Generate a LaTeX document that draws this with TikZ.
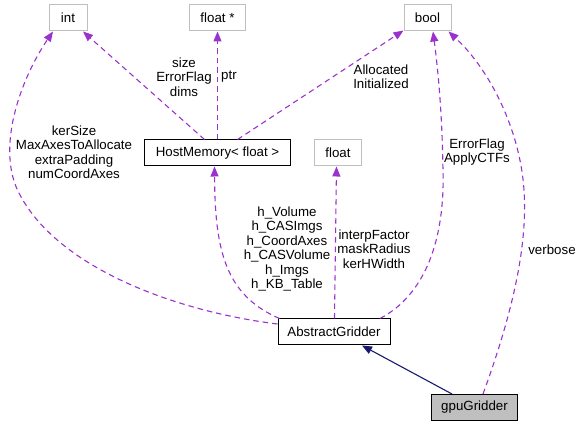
\documentclass[tikz,border=0pt]{standalone}
\usepackage{fontspec}
\setmainfont{Liberation Sans}
\usetikzlibrary{arrows.meta}
\definecolor{dpurple}{HTML}{9A32CD}
\definecolor{dnavy}{HTML}{191970}
\definecolor{lgray}{HTML}{BFBFBF}
\definecolor{fgray}{HTML}{BFBFBF}
\tikzset{
  base/.style={inner sep=0pt, minimum height=26pt, font=\fontsize{13.3}{14.5}\selectfont},
  extbox/.style={base, draw=lgray, line width=1pt, fill=white},
  clsbox/.style={base, draw=black, line width=1pt, fill=white},
  curbox/.style={base, draw=black, line width=1pt, fill=fgray},
  usage/.style={draw=dpurple, line width=1.1pt, dash pattern=on 5.5pt off 4pt,
    -{Triangle[length=10pt,width=8pt,fill=dpurple]}},
  inherit/.style={draw=dnavy, line width=1.1pt,
    -{Triangle[length=10pt,width=8pt,fill=dnavy]}},
  lbl/.style={inner sep=0pt, align=center, font=\fontsize{13.3}{14.5}\selectfont}
}
\begin{document}
\begin{tikzpicture}[x=1pt,y=-1pt]
\useasboundingbox (0,0) rectangle (581,427);
% nodes
\node[extbox, minimum width=38pt] (int) at (68,18) {int};
\node[extbox, minimum width=56pt] (fp) at (217.5,18) {float *};
\node[extbox, minimum width=47pt] (bool) at (427.5,18) {bool};
\node[clsbox, minimum width=146pt] (hm) at (217.5,153) {HostMemory< float >};
\node[extbox, minimum width=47pt] (flt) at (338,153) {float};
\node[clsbox, minimum width=112pt] (ag) at (334,332) {AbstractGridder};
\node[curbox, minimum width=86pt] (gpu) at (474.5,407.5) {gpuGridder};
% edges
\draw[usage] ([xshift=-13pt]hm.north) -- ([xshift=15pt]int.south);
\draw[usage] (hm.north) -- (fp.south);
\draw[usage] ([xshift=20pt]hm.north) -- ([yshift=1pt]bool.south west);
\draw[usage] ([yshift=8pt]ag.west) .. controls (180,312) and (60,270) .. (20,195)
  .. controls (-5,150) and (20,80) .. ([xshift=-15pt]int.south);
\draw[usage] ([xshift=2pt]ag.north west) .. controls (225,295) and (215,250) .. ([xshift=-3pt]hm.south);
\draw[usage] ([xshift=0.5pt]ag.north) -- ([xshift=-1.5pt]flt.south);
\draw[usage] ([xshift=46pt]ag.north) .. controls (425,295) and (445,240) .. (443,170)
  .. controls (442,110) and (438,70) .. ([xshift=5.5pt]bool.south);
\draw[usage] ([xshift=8.5pt]gpu.north) .. controls (510,320) and (528,250) .. (524,190)
  .. controls (520,130) and (490,70) .. ([xshift=-3pt]bool.south east);
\draw[inherit] ([xshift=-22.5pt]gpu.north) -- ([xshift=28pt]ag.south);
% labels
\node[lbl] (l1) at (184,77) {size\\ErrorFlag\\dims};
\node[lbl] (l2) at (229,77) {ptr};
\node[lbl] (l3) at (381,77) {Allocated\\Initialized};
\node[lbl] (l4) at (74,152) {kerSize\\MaxAxesToAllocate\\extraPadding\\numCoordAxes};
\node[lbl] (l5) at (287,249) {h\_Volume\\h\_CASImgs\\h\_CoordAxes\\h\_CASVolume\\h\_Imgs\\h\_KB\_Table};
\node[lbl] (l6) at (374,249) {interpFactor\\maskRadius\\kerHWidth};
\node[lbl] (l7) at (477,152) {ErrorFlag\\ApplyCTFs};
\node[lbl] (l8) at (552,250) {verbose};
\end{tikzpicture}
\end{document}
